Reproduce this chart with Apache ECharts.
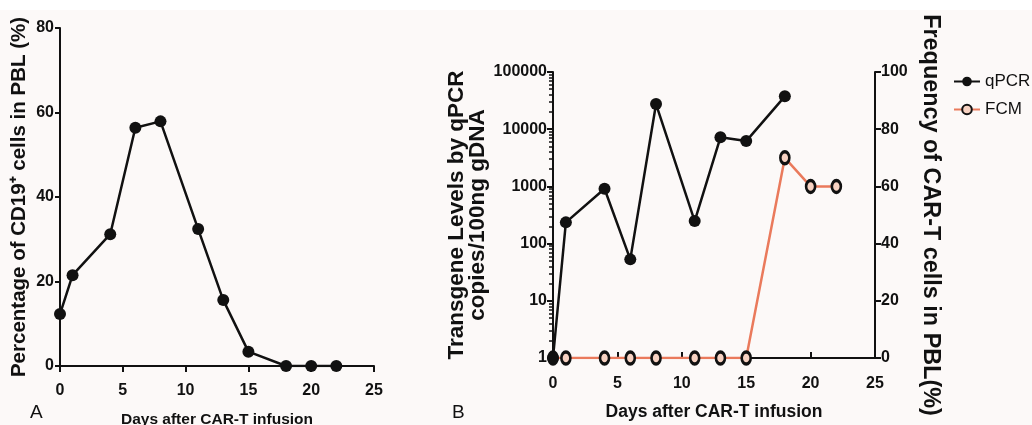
<!DOCTYPE html>
<html><head><meta charset="utf-8">
<script src="https://cdn.jsdelivr.net/npm/echarts@6/dist/echarts.min.js"></script>
<style>html,body{margin:0;padding:0;background:#fff}#c{width:1032px;height:425px}</style>
</head><body><div id="c"></div>
<script>
// Panel A data
const daysA = [0, 1, 4, 6, 8, 11, 13, 15, 18, 20, 22];
const cd19Pct = [12.3, 21.5, 31.2, 56.4, 57.9, 32.4, 15.6, 3.4, 0, 0, 0];
// Panel B data
const daysQPCR = [0, 1, 4, 6, 8, 11, 13, 15, 18];
const qpcrCopies = [1, 235, 910, 53, 27500, 248, 7200, 6200, 37500];
const daysFCM = [0, 1, 4, 6, 8, 11, 13, 15, 18, 20, 22];
const fcmPct = [0, 0, 0, 0, 0, 0, 0, 0, 70, 60, 60];
// Tick positions
const xTicks = [0, 5, 10, 15, 20, 25];
const logTicks = [1, 10, 100, 1000, 10000, 100000];
// minor log ticks expressed in decades (log10 of 2..9 times each power of ten)
const logMinorDecades = [];
for (let d = 0; d < 5; d++) for (const k of [2, 3, 4, 5, 6, 7, 8, 9]) logMinorDecades.push(d + Math.log10(k));

const FONTW = "'Liberation Sans',Arial,sans-serif";
const BLACK = '#111';
const ORANGE = '#ea7a5c';

const pairs = (xs, ys) => xs.map((x, i) => [x, ys[i]]);
const tickLabel = {fontFamily: FONTW, fontWeight: 'bold', fontSize: 16, color: BLACK};

const chart = echarts.init(document.getElementById('c'), null, {renderer: 'canvas'});
chart.setOption({
  backgroundColor: '#fcf9f8',
  animation: false,
  graphic: [
    {type: 'rect', shape: {x: 0, y: 0, width: 1032, height: 10}, style: {fill: '#ffffff'}, z: -1},
    {type: 'text', left: 30, top: 403, style: {text: 'A', font: "19px " + FONTW, fill: BLACK}},
    {type: 'text', left: 452, top: 403, style: {text: 'B', font: "19px " + FONTW, fill: BLACK}}
  ],
  legend: {
    left: 948, top: 68, orient: 'vertical', itemGap: 11, itemWidth: 26, itemHeight: 12,
    textStyle: {fontFamily: FONTW, fontSize: 17, color: BLACK},
    data: ['qPCR', 'FCM']
  },
  grid: [
    {left: 60, top: 28, width: 314, height: 338, outerBoundsMode: 'none', containLabel: false},
    {left: 553, top: 72, width: 322, height: 286, outerBoundsMode: 'none', containLabel: false}
  ],
  xAxis: [
    {gridIndex: 0, type: 'value', min: 0, max: 25, interval: 5,
     name: 'Days after CAR-T infusion', nameLocation: 'middle', nameGap: 46,
     nameTextStyle: {fontFamily: FONTW, fontWeight: 'bold', fontSize: 15.5, color: BLACK},
     axisLine: {lineStyle: {color: BLACK, width: 2}},
     axisTick: {length: 6, lineStyle: {color: BLACK, width: 2}},
     axisLabel: Object.assign({margin: 17}, tickLabel),
     splitLine: {show: false}},
    {gridIndex: 1, type: 'value', min: 0, max: 25, interval: 5,
     name: 'Days after CAR-T infusion', nameLocation: 'middle', nameGap: 45,
     nameTextStyle: {fontFamily: FONTW, fontWeight: 'bold', fontSize: 17.5, color: BLACK},
     axisLine: {onZero: false, lineStyle: {color: BLACK, width: 2}},
     axisTick: {inside: true, length: 6, lineStyle: {color: BLACK, width: 2}},
     axisLabel: Object.assign({margin: 18}, tickLabel),
     splitLine: {show: false}}
  ],
  yAxis: [
    {gridIndex: 0, type: 'value', min: 0, max: 80, interval: 20,
     name: 'Percentage of CD19\u207A cells in PBL (%)', nameLocation: 'middle', nameGap: 30,
     nameTextStyle: {fontFamily: FONTW, fontWeight: 'bold', fontSize: 20.5, color: BLACK},
     axisLine: {show: true, lineStyle: {color: BLACK, width: 2}},
     axisTick: {show: true, length: 5, lineStyle: {color: BLACK, width: 2}},
     axisLabel: Object.assign({margin: 6}, tickLabel),
     splitLine: {show: false}},
    {gridIndex: 1, type: 'log', logBase: 10, min: 1, max: 100000,
     name: 'Transgene Levels by qPCR\ncopies/100ng gDNA', nameLocation: 'middle', nameGap: 64,
     nameTextStyle: {fontFamily: FONTW, fontWeight: 'bold', fontSize: 22.5, color: BLACK, lineHeight: 21},
     axisLine: {show: true, lineStyle: {color: BLACK, width: 2}},
     axisTick: {show: true, length: 6, lineStyle: {color: BLACK, width: 2}},
     axisLabel: Object.assign({margin: 6, formatter: v => String(Math.round(v))}, tickLabel),
     splitLine: {show: false}},
    {gridIndex: 1, type: 'value', position: 'right', min: 0, max: 100, interval: 20,
     name: 'Frequency of CAR-T cells in PBL(%)', nameLocation: 'middle', nameGap: 44, nameRotate: -90,
     nameTextStyle: {fontFamily: FONTW, fontWeight: 'bold', fontSize: 23.4, color: BLACK},
     axisLine: {show: true, lineStyle: {color: BLACK, width: 2}},
     axisTick: {show: true, length: 6, lineStyle: {color: BLACK, width: 2}},
     axisLabel: Object.assign({margin: 6}, tickLabel),
     splitLine: {show: false}},
    {gridIndex: 1, type: 'value', min: 0, max: 5, interval: 1, position: 'left', offset: 0,
     axisLine: {show: true, lineStyle: {color: 'rgba(0,0,0,0)', width: 1}},
     axisTick: {show: true, length: 4, customValues: logMinorDecades, lineStyle: {color: BLACK, width: 1.5}},
     axisLabel: {show: false, customValues: logMinorDecades},
     splitLine: {show: false}}
  ],
  series: [
    {name: 'CD19', type: 'line', xAxisIndex: 0, yAxisIndex: 0, data: pairs(daysA, cd19Pct),
     symbol: 'circle', symbolSize: 12, lineStyle: {color: BLACK, width: 2.5},
     itemStyle: {color: BLACK}, z: 3},
    {name: 'FCM', type: 'line', xAxisIndex: 1, yAxisIndex: 2, data: pairs(daysFCM, fcmPct),
     symbol: 'circle', symbolSize: [9, 12], lineStyle: {color: ORANGE, width: 2.5},
     itemStyle: {color: '#f7d2c2', borderColor: BLACK, borderWidth: 3}, z: 2},
    {name: 'qPCR', type: 'line', xAxisIndex: 1, yAxisIndex: 1, data: pairs(daysQPCR, qpcrCopies),
     symbol: 'circle', symbolSize: 12, lineStyle: {color: BLACK, width: 2.5},
     itemStyle: {color: BLACK}, z: 4}
  ]
});
</script></body></html>
